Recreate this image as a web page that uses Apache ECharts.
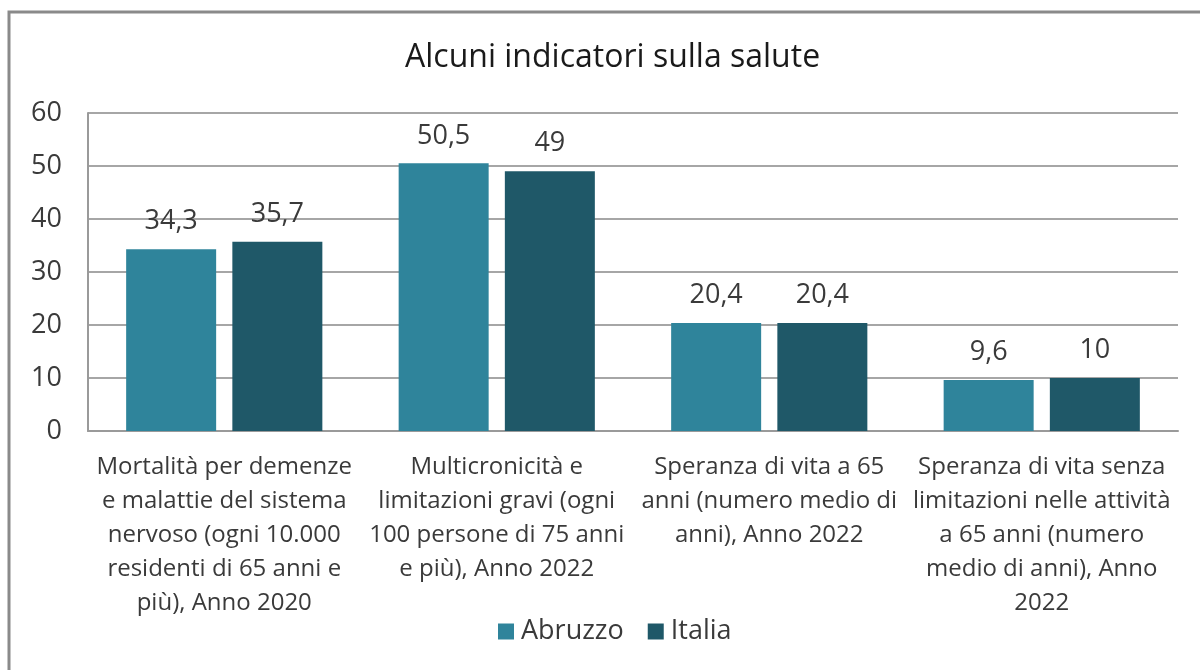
<!DOCTYPE html>
<html>
<head>
<meta charset="utf-8">
<script src="https://cdn.jsdelivr.net/npm/echarts@6/dist/echarts.min.js"></script>
<style>
  html, body { margin: 0; padding: 0; background: #fff; }
  #chart { width: 1200px; height: 670px; }
</style>
</head>
<body>
<div id="chart"></div>
<script>
// categorie (a capo come nell'originale)
const categories = [
  "Mortalità per demenze\ne malattie del sistema\nnervoso (ogni 10.000\nresidenti di 65 anni e\npiù), Anno 2020",
  "Multicronicità e\nlimitazioni gravi (ogni\n100 persone di 75 anni\ne più), Anno 2022",
  "Speranza di vita a 65\nanni (numero medio di\nanni), Anno 2022",
  "Speranza di vita senza\nlimitazioni nelle attività\na 65 anni (numero\nmedio di anni), Anno\n2022"
]
const abruzzo = [34.3, 50.5, 20.4, 9.6]
const italia = [35.7, 49, 20.4, 10]
const yTicks = [0, 10, 20, 30, 40, 50, 60]

const font = "'Open Sans', sans-serif"
const txt = "#3a3a3a"

const chart = echarts.init(document.getElementById("chart"))

const labelFmt = p => String(p.value).replace(".", ",")

let options = {
  animation: false,
  textStyle: { fontFamily: font },
  graphic: [{
    type: "rect",
    shape: { x: 9, y: 12, width: 1220, height: 700 },
    style: { fill: "none", stroke: "#8a8a8a", lineWidth: 3 }
  }],
  title: {
    text: "Alcuni indicatori sulla salute",
    left: 400,
    top: 37,
    textStyle: { fontSize: 32, fontWeight: "normal", color: "#1a1a1a", fontFamily: font }
  },
  legend: {
    bottom: 20,
    left: 493,
    itemWidth: 16,
    itemHeight: 16,
    itemGap: 24,
    icon: "rect",
    textStyle: { fontSize: 27, color: txt, fontFamily: font, padding: [0, 0, 0, 2] },
    data: ["Abruzzo", "Italia"]
  },
  grid: { left: 88, right: 22, top: 113, bottom: 239, containLabel: false },
  xAxis: {
    type: "category",
    data: categories,
    axisTick: { show: false },
    axisLine: { lineStyle: { color: "#9a9a9a", width: 2 } },
    axisLabel: {
      interval: 0,
      fontSize: 24,
      lineHeight: 34,
      color: txt,
      margin: 19,
      align: "center",
      fontFamily: font
    }
  },
  yAxis: {
    type: "value",
    min: yTicks[0],
    max: yTicks[yTicks.length - 1],
    interval: 10,
    axisLine: { show: true, lineStyle: { color: "#9a9a9a", width: 2 } },
    axisTick: { show: false },
    splitLine: { lineStyle: { color: "#a6a6a6", width: 2 } },
    axisLabel: { fontSize: 27, color: txt, margin: 26, fontFamily: font }
  },
  series: [
    {
      name: "Abruzzo",
      type: "bar",
      data: abruzzo,
      barWidth: 90,
      barGap: "18%",
      itemStyle: { color: "#2f849b" },
      label: { show: true, position: "top", distance: 14, fontSize: 27, color: txt, formatter: labelFmt, fontFamily: font }
    },
    {
      name: "Italia",
      type: "bar",
      data: italia,
      barWidth: 90,
      itemStyle: { color: "#1f5868" },
      label: { show: true, position: "top", distance: 14, fontSize: 27, color: txt, formatter: labelFmt, fontFamily: font }
    }
  ]
}

chart.setOption(options)
window.addEventListener("resize", function () {
  chart.resize()
})
</script>
</body>
</html>
